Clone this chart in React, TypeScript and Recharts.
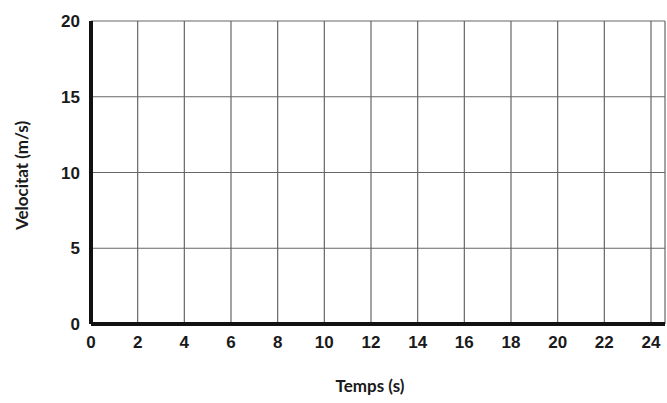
import React from "react";
import { LineChart, Line, XAxis, YAxis, CartesianGrid } from "recharts";

const temps = [0, 2, 4, 6, 8, 10, 12, 14, 16, 18, 20, 22, 24];
const velocitatTicks = [0, 5, 10, 15, 20];
// empty graph paper: no measurements plotted yet
const velocitat: (number | null)[] = temps.map(() => null);

const chartData = temps.map((t, i) => ({ temps: t, velocitat: velocitat[i] }));

const tickStyle = {
  fontSize: 17,
  fontWeight: 700,
  fill: "#1a1a1a",
  fontFamily: "Liberation Sans, Arial, sans-serif",
};

export default function App() {
  return (
    <div style={{ position: "absolute", left: 0, top: 0, background: "#fff" }}>
      <LineChart
        width={667}
        height={403}
        data={chartData}
        margin={{ top: 21, right: 2, left: 0, bottom: 0 }}
      >
        <CartesianGrid stroke="#666" strokeWidth={1.2} />
        <XAxis
          dataKey="temps"
          type="number"
          domain={[0, 24.6]}
          allowDataOverflow
          ticks={temps}
          height={79}
          tick={tickStyle}
          tickLine={false}
          tickMargin={6}
          axisLine={{ stroke: "#111", strokeWidth: 4 }}
          label={{
            value: "Temps (s)",
            position: "insideBottom",
            offset: 11,
            dx: -8,
            style: { fontSize: 17, fontWeight: 700, fill: "#1a1a1a", fontFamily: "Lato, sans-serif" },
          }}
        />
        <YAxis
          dataKey="velocitat"
          type="number"
          domain={[0, 20]}
          allowDataOverflow
          ticks={velocitatTicks}
          width={91}
          tick={tickStyle}
          tickLine={false}
          tickMargin={5}
          axisLine={{ stroke: "#111", strokeWidth: 4 }}
          label={{
            value: "Velocitat (m/s)",
            angle: -90,
            position: "insideLeft",
            offset: 22,
            dy: 3,
            style: { fontSize: 17, fontWeight: 700, fill: "#1a1a1a", fontFamily: "Lato, sans-serif", textAnchor: "middle" },
          }}
        />
        <Line dataKey="velocitat" stroke="#111" dot={false} isAnimationActive={false} />
      </LineChart>
    </div>
  );
}
